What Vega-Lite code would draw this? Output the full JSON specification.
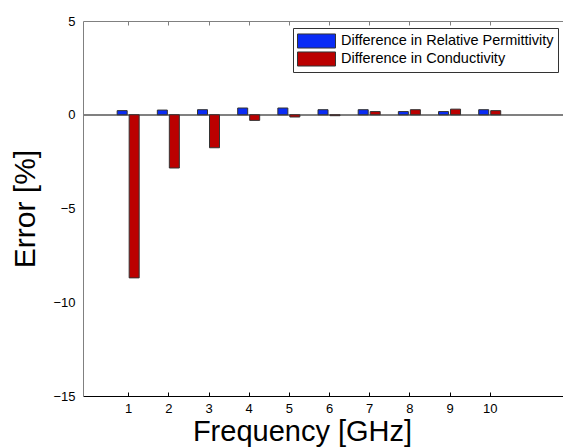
{
  "$schema": "https://vega.github.io/schema/vega-lite/v6.json",
  "width": 480,
  "height": 375,
  "autosize": "none",
  "padding": {"left": 83, "top": 21, "right": 0, "bottom": 52},
  "background": "white",
  "config": {
    "font": "Liberation Sans",
    "view": {"stroke": null},
    "axis": {"grid": false, "labelFont": "Liberation Sans", "titleFont": "Liberation Sans", "labelColor": "black", "titleColor": "black", "titleFontWeight": "normal"}
  },
  "data": {
    "values": [
      {"freq": 1, "type": "Difference in Relative Permittivity", "value": 0.22},
      {"freq": 2, "type": "Difference in Relative Permittivity", "value": 0.25},
      {"freq": 3, "type": "Difference in Relative Permittivity", "value": 0.27},
      {"freq": 4, "type": "Difference in Relative Permittivity", "value": 0.36},
      {"freq": 5, "type": "Difference in Relative Permittivity", "value": 0.36},
      {"freq": 6, "type": "Difference in Relative Permittivity", "value": 0.27},
      {"freq": 7, "type": "Difference in Relative Permittivity", "value": 0.27},
      {"freq": 8, "type": "Difference in Relative Permittivity", "value": 0.17},
      {"freq": 9, "type": "Difference in Relative Permittivity", "value": 0.17},
      {"freq": 10, "type": "Difference in Relative Permittivity", "value": 0.27},
      {"freq": 1, "type": "Difference in Conductivity", "value": -8.7},
      {"freq": 2, "type": "Difference in Conductivity", "value": -2.84},
      {"freq": 3, "type": "Difference in Conductivity", "value": -1.76},
      {"freq": 4, "type": "Difference in Conductivity", "value": -0.3},
      {"freq": 5, "type": "Difference in Conductivity", "value": -0.12},
      {"freq": 6, "type": "Difference in Conductivity", "value": -0.05},
      {"freq": 7, "type": "Difference in Conductivity", "value": 0.17},
      {"freq": 8, "type": "Difference in Conductivity", "value": 0.27},
      {"freq": 9, "type": "Difference in Conductivity", "value": 0.3},
      {"freq": 10, "type": "Difference in Conductivity", "value": 0.22}
    ]
  },
  "layer": [
    {
      "mark": {"type": "rule", "color": "#808080", "strokeWidth": 1},
      "encoding": {"y": {"datum": 0, "type": "quantitative", "scale": {"domain": [-15, 5], "nice": false}}}
    },
    {
      "transform": [{"filter": "datum.type === 'Difference in Relative Permittivity'"}],
      "mark": {"type": "bar", "size": 10, "xOffset": -6, "stroke": "#333333", "strokeWidth": 1},
      "encoding": {
        "x": {"field": "freq", "type": "quantitative", "scale": {"domain": [0, 11.7], "nice": false, "zero": false},
              "axis": {"orient": "top", "values": [1,2,3,4,5,6,7,8,9,10], "labels": false, "title": null, "tickSize": -4, "tickColor": "#808080", "domainColor": "#808080"}},
        "y": {"field": "value", "type": "quantitative", "scale": {"domain": [-15, 5], "nice": false},
              "axis": {"values": [-15, -10, -5, 0, 5], "ticks": false, "labelPadding": 8, "labelFontSize": 13, "domainColor": "#808080", "title": "Error [%]", "titleFontSize": 30, "titlePadding": 12}},
        "color": {"field": "type", "type": "nominal",
                  "scale": {"domain": ["Difference in Relative Permittivity", "Difference in Conductivity"], "range": ["#0a2cf5", "#bb0000"]},
                  "legend": {"title": null, "orient": "none", "legendX": 210, "legendY": 7, "fillColor": "white", "strokeColor": "#333333", "padding": 4,
                             "symbolType": "M-1,-0.37H1V0.37H-1Z", "symbolSize": 1444, "symbolStrokeColor": "#333333", "symbolStrokeWidth": 1, "symbolOpacity": 1,
                             "clipHeight": 18, "labelFontSize": 14.5, "labelFont": "Liberation Sans", "labelColor": "black", "rowPadding": 0, "labelOffset": 5, "labelLimit": 400}}
      }
    },
    {
      "transform": [{"filter": "datum.type === 'Difference in Conductivity'"}],
      "mark": {"type": "bar", "size": 10, "xOffset": 6, "stroke": "#333333", "strokeWidth": 1},
      "encoding": {
        "x": {"field": "freq", "type": "quantitative",
              "axis": {"orient": "bottom", "values": [1,2,3,4,5,6,7,8,9,10], "tickSize": -4, "tickColor": "black", "domainColor": "black", "labelPadding": 10, "labelFontSize": 13,
                       "title": "Frequency [GHz]", "titleFontSize": 29, "titlePadding": 2, "titleX": 219}},
        "y": {"field": "value", "type": "quantitative"},
        "color": {"field": "type", "type": "nominal"}
      }
    }
  ],
  "resolve": {"axis": {"x": "independent"}}
}
